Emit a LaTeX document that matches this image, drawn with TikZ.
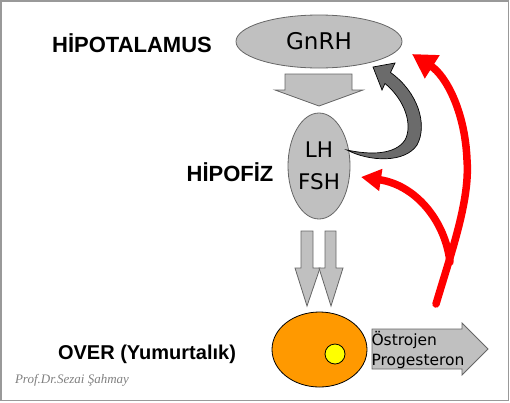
\documentclass[tikz,border=0pt]{standalone}
\usepackage{fontspec}
\setmainfont{DejaVu Sans}
\newfontfamily\labelfont{Liberation Sans}
\newfontfamily\signfont{Liberation Serif}
\usepackage{xcolor}
\definecolor{OrganGray}{HTML}{C0C0C0}
\definecolor{EdgeGray}{HTML}{666666}
\definecolor{LoopGray}{HTML}{6B6B6B}
\definecolor{OvaryOrange}{HTML}{FF9900}
\definecolor{FollicleYellow}{HTML}{FFFF00}
\definecolor{FeedbackRed}{HTML}{FF0000}
\usepackage{tikz}
\usetikzlibrary{arrows.meta,positioning,shapes.geometric}

\begin{document}
\begin{tikzpicture}[x=1pt,y=-1pt,
  organ/.style={ellipse,draw=EdgeGray,line width=0.8pt,fill=OrganGray,inner sep=0pt},
  level/.style={font=\fontsize{22}{26}\selectfont\labelfont\bfseries},
  blockarrow/.style={draw=EdgeGray,line width=0.8pt,fill=OrganGray},
  feedback/.style={draw=FeedbackRed,line width=7.5pt,line cap=round}]
\useasboundingbox (0,0) rectangle (510,402);
\draw[gray!80,line width=1.5pt] (1,1) rectangle (508.5,400.5);

% organs
\node[organ,minimum width=166pt,minimum height=53pt,
      font=\fontsize{23}{26}\selectfont] (hypo) at (319,41.5) {GnRH};
\node[organ,minimum width=62pt,minimum height=106pt,align=center,
      font=\fontsize{21.5}{32}\selectfont] (pit) at (319,166) {LH\\FSH};
\node[ellipse,draw,line width=0.8pt,fill=OvaryOrange,inner sep=0pt,
      minimum width=95pt,minimum height=75pt] (ovary) at (319.5,349.5) {};
\node[circle,draw,line width=0.8pt,fill=FollicleYellow,inner sep=0pt,
      minimum size=20pt] (follicle) at (335,354) {};

% level labels
\node[level] (hypolabel) at (132,43) {HİPOTALAMUS};
\node[level] (pitlabel) at (230,172) {HİPOFİZ};
\node[font=\fontsize{20}{24}\selectfont\labelfont\bfseries] (ovarylabel) at (147,354)
  {OVER (Yumurtalık)};
\node[font=\fontsize{13}{15}\selectfont\signfont\itshape,text=gray] (sign) at (72,380)
  {Prof.Dr.Sezai Şahmay};

% release arrows
\draw[blockarrow] (285,74) -- (352,74) -- (352,90) -- (363,90) -- (319,106)
  -- (275,90) -- (285,90) -- cycle;
\draw[blockarrow] (301,231) -- (313,231) -- (313,268) -- (320,268) -- (307,306)
  -- (295,268) -- (301,268) -- cycle;
\draw[blockarrow] (325,231) -- (336,231) -- (336,268) -- (343,268) -- (331,306)
  -- (319,268) -- (325,268) -- cycle;
\draw[blockarrow] (372,329) -- (462,329) -- (462,323) -- (488,349) -- (462,375)
  -- (462,369) -- (372,369) -- cycle;
\node[align=left,font=\fontsize{15.5}{20}\selectfont] (hormones) at (418,350)
  {Östrojen\\Progesteron};

% short loop from the pituitary back to GnRH
\coordinate (looptail) at (347,150);
\fill[LoopGray,draw=black,line width=0.7pt] (looptail)
  .. controls (370,162) and (405,163) .. (417,145)
  .. controls (428,125) and (418,92) .. (390.5,72.5)
  -- (395,63) -- (373,67) -- (382,90) -- (385,83.5)
  .. controls (405,100) and (413,125) .. (405,140)
  .. controls (395,155) and (370,155) .. cycle;

% feedback from the ovary
\coordinate (ovaryout) at (436,304);
\coordinate (branch) at (450,262);
\coordinate (gnrhin) at (412,54);
\coordinate (pitin) at (361,177);
\draw[feedback,-{Triangle[length=24pt,width=26pt]}] (ovaryout)
  .. controls (452,250) and (470,200) .. (467,160)
  .. controls (465,110) and (445,75) .. (gnrhin);
\draw[feedback,-{Triangle[length=20pt,width=21pt]}] (branch)
  .. controls (445,220) and (415,185) .. (pitin);
\end{tikzpicture}
\end{document}
